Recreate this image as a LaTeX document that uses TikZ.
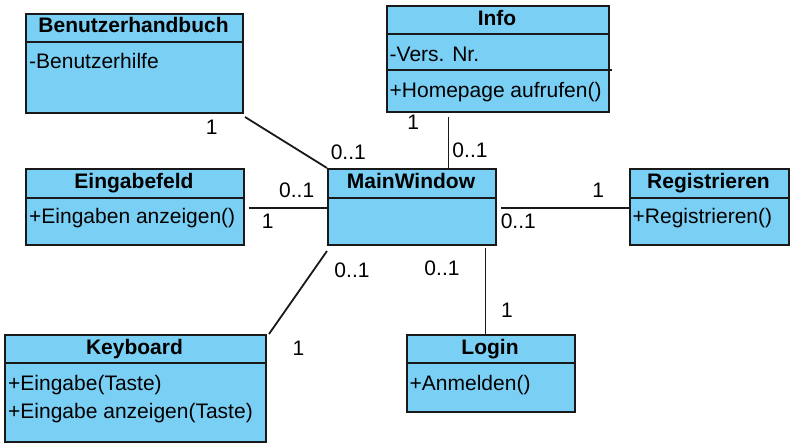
\documentclass[tikz,border=0pt]{standalone}
\usepackage{fontspec}
\setmainfont{Liberation Sans}
\definecolor{clsfill}{RGB}{122,207,245}
\definecolor{clsline}{RGB}{25,25,25}
\tikzset{
  cls/.style={draw=clsline, fill=clsfill, line width=2pt, rectangle, inner sep=0pt, anchor=north west},
  divider/.style={draw=clsline, line width=2pt},
  ttl/.style={anchor=base, inner sep=0pt, font=\fontsize{21}{24}\selectfont\bfseries},
  txt/.style={anchor=base west, inner sep=0pt, font=\fontsize{21}{24}\selectfont},
  mult/.style={anchor=center, inner sep=0pt, font=\fontsize{21}{24}\selectfont},
  assoc/.style={draw=clsline, line width=1.8pt},
}
\begin{document}
\begin{tikzpicture}[x=1pt,y=-1pt]
\useasboundingbox (0,0) rectangle (793,446);

% Benutzerhandbuch
\node[cls, minimum width=217pt, minimum height=99pt] (bh) at (25,13) {};
\draw[divider] (bh.west |- 0,42.5) -- (bh.east |- 0,42.5);
\node[ttl] (bht) at (133.5,33) {Benutzerhandbuch};
\node[txt] (bha) at (29,69) {-Benutzerhilfe};

% Info
\node[cls, minimum width=222pt, minimum height=106pt] (info) at (386,5) {};
\draw[divider] (info.west |- 0,34) -- (info.east |- 0,34);
\draw[divider] (info.west |- 0,70.5) -- ([xshift=2pt]info.east |- 0,70.5);
\node[ttl] (infot) at (497,26) {Info};
\node[txt] (infoa) at (389.5,62) {-Vers. Nr.};
\node[txt] (infoo) at (389.5,97.5) {+Homepage aufrufen()};

% Eingabefeld
\node[cls, minimum width=218pt, minimum height=76pt] (eing) at (25,168) {};
\draw[divider] (eing.west |- 0,198) -- (eing.east |- 0,198);
\node[ttl] (eingt) at (134,189) {Eingabefeld};
\node[txt] (eingo) at (29,224) {+Eingaben anzeigen()};

% MainWindow
\node[cls, minimum width=168pt, minimum height=76pt] (mw) at (327,168) {};
\draw[divider] (mw.west |- 0,198) -- (mw.east |- 0,198);
\node[ttl] (mwt) at (411,189) {MainWindow};

% Registrieren
\node[cls, minimum width=159pt, minimum height=76pt] (reg) at (629,168) {};
\draw[divider] (reg.west |- 0,198) -- (reg.east |- 0,198);
\node[ttl] (regt) at (708.5,189) {Registrieren};
\node[txt] (rego) at (632.5,224) {+Registrieren()};

% Keyboard
\node[cls, minimum width=261pt, minimum height=107pt] (kb) at (4,334) {};
\draw[divider] (kb.west |- 0,363) -- (kb.east |- 0,363);
\node[ttl] (kbt) at (134.5,355) {Keyboard};
\node[txt] (kbo1) at (8,390.5) {+Eingabe(Taste)};
\node[txt] (kbo2) at (8,418) {+Eingabe anzeigen(Taste)};

% Login
\node[cls, minimum width=168pt, minimum height=77pt] (login) at (406,334) {};
\draw[divider] (login.west |- 0,363) -- (login.east |- 0,363);
\node[ttl] (logint) at (490,355) {Login};
\node[txt] (logino) at (409.5,391) {+Anmelden()};

% Associations
\draw[assoc] ([shift={(1,3)}]bh.south east) -- (mw.north west);
\draw[assoc] ([shift={(3.5,1)}]eing.east) -- ([shift={(0,1)}]mw.west);
\coordinate (infoend) at (448.5,117);
\draw[assoc] (mw.north -| infoend) -- (infoend);
\draw[assoc] ([shift={(4,1)}]mw.east) -- ([shift={(0,1)}]reg.west);
\draw[assoc] ([shift={(0,5)}]mw.south west) -- ([shift={(2,0)}]kb.north east);
\draw[assoc] ([shift={(-5.5,0)}]login.north) -- ([shift={(-5.5,-86)}]login.north);

% Multiplicities
\node[mult] (m1) at (211.7,127.7) {1};
\node[mult] (m2) at (348.3,152.7) {0..1};
\node[mult] (m3) at (296.7,190.7) {0..1};
\node[mult] (m4) at (267.7,221) {1};
\node[mult] (m5) at (413.3,122.3) {1};
\node[mult] (m6) at (470,150) {0..1};
\node[mult] (m7) at (598.3,190) {1};
\node[mult] (m8) at (518.3,221) {0..1};
\node[mult] (m9) at (352,270) {0..1};
\node[mult] (m10) at (298.5,348) {1};
\node[mult] (m11) at (442,268) {0..1};
\node[mult] (m12) at (507,310) {1};
\end{tikzpicture}
\end{document}
